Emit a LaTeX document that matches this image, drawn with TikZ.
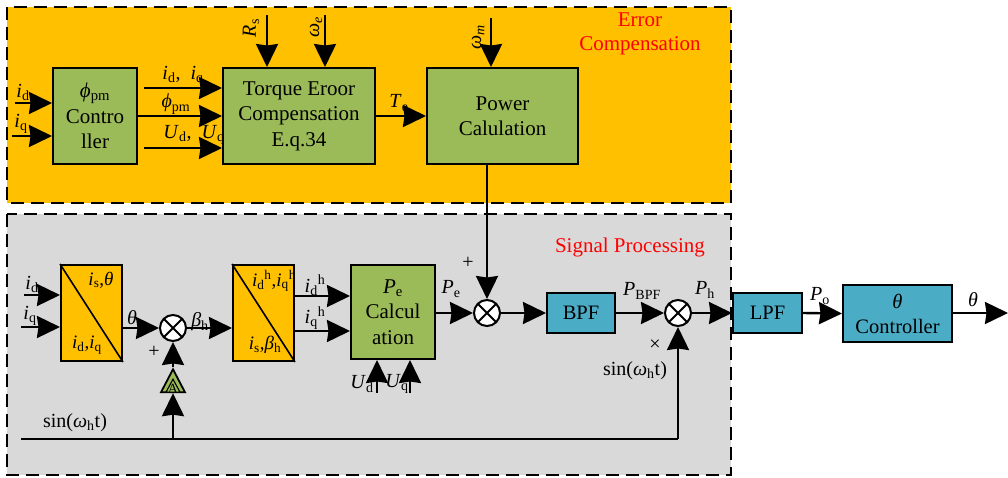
\documentclass[tikz,border=0pt]{standalone}
\usepackage{fontspec}
\setmainfont{Liberation Serif}
\usetikzlibrary{arrows.meta,shapes.geometric}
\definecolor{gold}{HTML}{FFC000}
\definecolor{panel}{HTML}{D9D9D9}
\definecolor{leaf}{HTML}{9BBB59}
\definecolor{teal}{HTML}{4BACC6}
\newcommand\sd[1]{\textsubscript{#1}}
\newcommand\su[1]{\textsuperscript{#1}}
\newcommand\blkfont{\rmfamily\fontsize{21}{25.5}\selectfont}
\newcommand\cyfont{\rmfamily\fontsize{20.5}{24}\selectfont}
\newcommand\tagfont{\rmfamily\fontsize{20}{23}\selectfont}
\newcommand\inbfont{\rmfamily\fontsize{19}{22}\selectfont}

\begin{document}
\begin{tikzpicture}[x=1pt,y=-1pt,
  arr/.style={line width=2.4pt,-{Stealth[length=23pt,width=22pt,inset=1.5pt]}},
  blk/.style={draw,line width=2pt,align=center,inner sep=0pt,font=\blkfont},
  gbox/.style={blk,fill=leaf},
  cbox/.style={blk,fill=teal,font=\cyfont},
  tbox/.style={blk,fill=gold,minimum width=61pt,minimum height=96pt},
  mult/.style={circle,draw,line width=2pt,fill=white,minimum size=26pt,inner sep=0pt,
    path picture={\draw[line width=2pt]
      ([shift={(-9.2,-9.2)}]path picture bounding box.center) -- ++(18.4,18.4)
      ([shift={(-9.2,9.2)}]path picture bounding box.center) -- ++(18.4,-18.4);}},
  tri/.style={isosceles triangle,shape border rotate=90,isosceles triangle stretches,
    inner sep=0pt,draw,fill=leaf},
  lbl/.style={inner sep=0pt,font=\tagfont},
  inb/.style={inner sep=0pt,font=\inbfont},
  redtxt/.style={text=red,font=\blkfont,align=center,inner sep=0pt},
  region/.style={line width=2.5pt,dash pattern=on 13pt off 7pt}]

\useasboundingbox (0,0) rectangle (1008,477);

% two dashed regions
\draw[region,fill=gold]  (7,7) rectangle (731,203);
\draw[region,fill=panel] (7,214) rectangle (731,475);

\node[redtxt] (ecomp) at (640,34) {Error\\[-2pt]Compensation};
\node[redtxt] (sproc) at (630,247) {Signal Processing};

% ---- error compensation branch ----
\node[lbl] (lidA) at (183,76) {\textit{i}\sd{d},\ \ \textit{i}\sd{q}};
\node[lbl] (lphA) at (176,104) {\textit{ϕ}\sd{pm}};
\node[lbl] (luA)  at (194,135) {\textit{U}\sd{d},\ \ \textit{U}\sd{q}};

\node[gbox,minimum width=84pt,minimum height=96pt] (phi) at (95,116)
  {\textit{ϕ}\sd{pm}\\Contro\\ller};
\node[gbox,minimum width=152pt,minimum height=96pt] (tq) at (299,116)
  {Torque Eroor\\Compensation\\E.q.34};
\node[gbox,minimum width=151pt,minimum height=96pt] (pw) at (502.5,116)
  {Power\\Calulation};

\node[lbl] (lid1) at (23,92) {\textit{i}\sd{d}};
\node[lbl] (liq1) at (21,124) {\textit{i}\sd{q}};
\coordinate (id1) at (15,103);
\coordinate (iq1) at (12,136);
\draw[arr] (id1) -- (id1 -| phi.west);
\draw[arr] (iq1) -- (iq1 -| phi.west);

\coordinate (o1) at (144,88);
\coordinate (o3) at (144,148);
\draw[arr] (o1) -- (o1 -| tq.west);
\draw[arr] (phi.east) -- (tq.west);
\draw[arr] (o3) -- (o3 -| tq.west);

\coordinate (rs) at (267,15);
\coordinate (we) at (325,15);
\coordinate (wm) at (491,18);
\draw[arr] (rs) -- (rs |- tq.north);
\draw[arr] (we) -- (we |- tq.north);
\draw[arr] (wm) -- (wm |- pw.north);
\node[lbl,rotate=90] (lrs) at (251,28) {\textit{R}\sd{s}};
\node[lbl,rotate=90] (lwe) at (316,27) {\textit{ω}\sd{\textit{e}}};
\node[lbl,rotate=90] (lwm) at (478,37) {\textit{ω}\sd{\textit{m}}};

\node[lbl] (lte) at (399,103) {\textit{T}\sd{e}};
\draw[arr] (tq.east) -- (pw.west);

% ---- signal processing branch ----
\node[tbox] (b1) at (91.5,313) {};
\draw[line width=1.6pt] (b1.north west) -- (b1.south east);
\node[inb] (b1t) at (101,280) {\textit{i}\sd{s},\textit{θ}};
\node[inb] (b1b) at (87,345) {\textit{i}\sd{d},\textit{i}\sd{q}};

\node[tbox] (b2) at (263.5,313) {};
\draw[line width=1.6pt] (b2.north west) -- (b2.south east);
\node[inb] (b2t) at (274,281) {\textit{i}\sd{d}\su{h},\textit{i}\sd{q}\su{h}};
\node[inb] (b2b) at (265,345) {\textit{i}\sd{s},\textit{β}\sd{h}};

\node[gbox,minimum width=84pt,minimum height=94pt] (pe) at (393,312)
  {\textit{P}\sd{e}\\Calcul\\ation};
\node[cbox,minimum width=68pt,minimum height=40pt] (bpf) at (581,313) {BPF};
\node[cbox,minimum width=69pt,minimum height=40pt] (lpf) at (767.5,313) {LPF};
\node[cbox,minimum width=109pt,minimum height=57pt] (tc) at (897.5,313.5)
  {\textit{θ}\\[1pt]Controller};

\node[mult] (s1) at (487,313) {};
\node[mult] (s2) at (173,328) {};
\node[mult] (s3) at (678,313) {};

% gain block: outlined triangle holding a smaller one and the letter A
\node[tri,line width=1.8pt,minimum width=24pt,minimum height=23pt] (amp) at (173,385) {};
\node[tri,line width=1.1pt,minimum width=14pt,minimum height=13pt] (ampin) at (173,388) {};
\node[inner sep=0pt,font=\rmfamily\fontsize{14}{14}\selectfont] (ampA) at (173,388.5) {A};

% inputs of the first transform
\node[lbl] (lid2) at (32,284) {\textit{i}\sd{d}};
\node[lbl] (liq2) at (30,316) {\textit{i}\sd{q}};
\coordinate (id2) at (24,295);
\coordinate (iq2) at (21,327);
\draw[arr] (id2) -- (id2 -| b1.west);
\draw[arr] (iq2) -- (iq2 -| b1.west);

\node[lbl] (lth) at (132,318) {\textit{θ}};
\node[lbl] (lp2) at (154,352) {+};
\draw[arr] (b1.east |- s2) -- (s2.west);
\node[lbl] (lbh) at (200,322) {\textit{β}\sd{h}};
\draw[arr] (s2.east) -- (s2 -| b2.west);

\node[lbl] (lidh) at (315,285) {\textit{i}\sd{d}\su{h}};
\node[lbl] (liqh) at (315,318) {\textit{i}\sd{q}\su{h}};
\coordinate (h1) at (294,296);
\coordinate (h2) at (294,331);
\draw[arr] (h1 -| b2.east) -- (h1 -| pe.west);
\draw[arr] (h2 -| b2.east) -- (h2 -| pe.west);

\coordinate (ud) at (377,393);
\coordinate (uq) at (410,393);
\draw[arr] (ud) -- (ud |- pe.south);
\draw[arr] (uq) -- (uq |- pe.south);
\node[lbl] (lud) at (362,384) {\textit{U}\sd{d}};
\node[lbl] (luq) at (397,384) {\textit{U}\sd{q}};

\node[lbl] (lpe) at (451,289) {\textit{P}\sd{e}};
\node[lbl] (lp1) at (468,263) {+};
\draw[arr] (pe.east |- s1) -- (s1.west);
\draw[arr] (pw.south -| s1) -- (s1.north);
\draw[arr] (s1.east) -- (bpf.west);

\node[lbl] (lpb) at (642,291) {\textit{P}\sd{BPF}};
\draw[arr] (bpf.east) -- (s3.west);
\node[lbl] (lx) at (655,345) {×};
\node[lbl] (lsin2) at (635,371) {sin(\textit{ω}\sd{h}t)};

\node[lbl] (lph) at (705,290) {\textit{P}\sd{h}};
\draw[arr] (s3.east) -- (lpf.west);
\node[lbl] (lpo) at (820,296) {\textit{P}\sd{o}};
\draw[arr] (lpf.east) -- (tc.west);
\coordinate (thout) at (1008,313);
\node[lbl] (lto) at (973,300) {\textit{θ}};
\draw[arr] (tc.east |- thout) -- (thout);

% injected carrier
\coordinate (sinL) at (21,439);
\node[lbl] (lsin1) at (75,423) {sin(\textit{ω}\sd{h}t)};
\draw[line width=2.4pt] (sinL) -- (sinL -| s3);
\draw[arr] (sinL -| s3) -- (s3.south);
\draw[arr] (amp.south |- sinL) -- (amp.south);
\draw[arr] (amp.apex) -- (s2.south);

\end{tikzpicture}
\end{document}
